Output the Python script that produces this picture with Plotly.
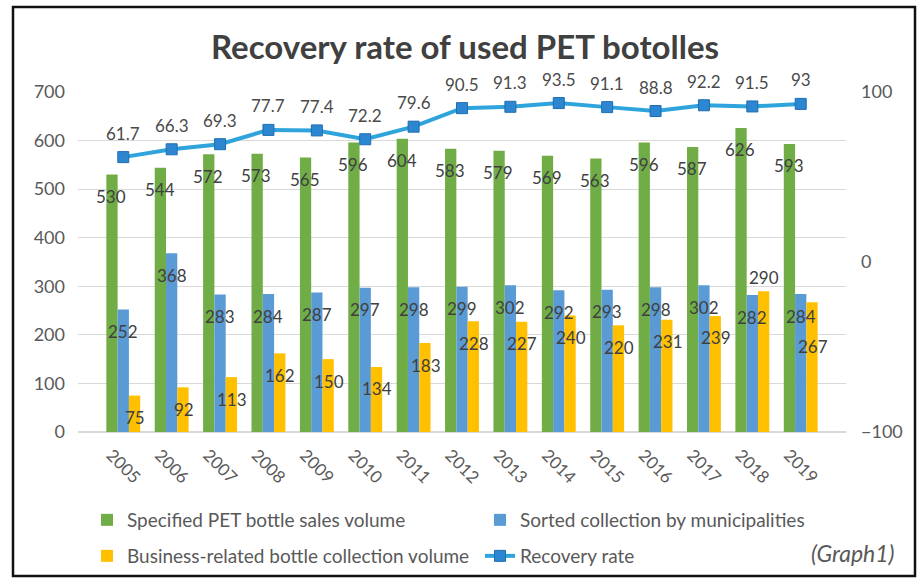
import plotly.graph_objects as go

years = [str(y) for y in range(2005, 2020)]
sales = [530, 544, 572, 573, 565, 596, 604, 583, 579, 569, 563, 596, 587, 626, 593]
municipal = [252, 368, 283, 284, 287, 297, 298, 299, 302, 292, 293, 298, 302, 282, 284]
business = [75, 92, 113, 162, 150, 134, 183, 228, 227, 240, 220, 231, 239, 290, 267]
rate = [61.7, 66.3, 69.3, 77.7, 77.4, 72.2, 79.6, 90.5, 91.3, 93.5, 91.1, 88.8, 92.2, 91.5, 93]

names = ["Specified PET bottle sales volume", "Sorted collection by municipalities",
         "Business-related bottle collection volume", "Recovery rate"]
colors = ["#70AD47", "#5B9BD5", "#FFC000"]

FONT = "Lato"
W, H = 924, 580
ML, MR, MT, MB = 78, 78, 92, 148
PW, PH = W - ML - MR, H - MT - MB


def px_x(p):
    return (p - ML) / PW


def px_y(p):
    return (MT + PH - p) / PH


fig = go.Figure()
legends = ["legend", "legend2", "legend3"]
for vals, name, col, lg in zip([sales, municipal, business], names[:3], colors, legends):
    fig.add_trace(go.Bar(x=years, y=vals, name=name, legend=lg, showlegend=True,
                         marker=dict(color=col, line=dict(width=0))))

fig.add_trace(go.Scatter(
    x=years, y=rate, name=names[3], yaxis="y2", mode="lines+markers", legend="legend4",
    showlegend=True,
    line=dict(color="#2FA4DC", width=4),
    marker=dict(symbol="square", size=11, color="#2D86D0", line=dict(color="#1F6DB3", width=1)),
))

annotations = []
label_color = "#404040"
bar_w = PW / len(years) * 0.7 / 3
for si, vals in enumerate([sales, municipal, business]):
    for i, v in enumerate(vals):
        ys = -22
        if si == 2 and years[i] == "2018":
            ys = 14
        if si == 2 and years[i] == "2019":
            ys = -44
        annotations.append(dict(x=i, y=v, xref="x", yref="y", text=str(v),
                                showarrow=False, xshift=(si - 1) * bar_w, yshift=ys,
                                font=dict(family=FONT, size=17, color=label_color)))
for i, v in enumerate(rate):
    annotations.append(dict(x=i, y=v, xref="x", yref="y2", text=str(v),
                            showarrow=False, yshift=24,
                            font=dict(family=FONT, size=17, color="#4a4a4a")))

annotations.append(dict(x=px_x(897), y=px_y(553), xref="paper", yref="paper",
                        xanchor="right", yanchor="middle", text="(Graph1)", showarrow=False,
                        font=dict(family=FONT, size=23, color="#595959", style="italic")))

shapes = [dict(type="rect", xref="paper", yref="paper",
               x0=px_x(13), x1=px_x(915), y0=px_y(576), y1=px_y(7),
               line=dict(color="#111111", width=2.5), fillcolor="rgba(0,0,0,0)", layer="above")]

legend_common = dict(orientation="h", xanchor="left", yanchor="middle", traceorder="normal",
                     visible=True,
                     font=dict(family=FONT, size=19, color="#595959"), bgcolor="rgba(0,0,0,0)")

fig.update_layout(
    width=W, height=H,
    showlegend=True,
    margin=dict(l=ML, r=MR, t=MT, b=MB, autoexpand=False),
    paper_bgcolor="white", plot_bgcolor="white",
    barmode="group", bargap=0.3, bargroupgap=0,
    title=dict(text="<b>Recovery rate of used PET botolles</b>", x=465 / W,
               xanchor="center", y=1 - 47 / H, yanchor="middle",
               font=dict(family=FONT, size=33, color="#404040")),
    xaxis=dict(type="category", tickangle=45, showgrid=False, showline=False, ticks="",
               ticklabelshift=-12, ticklabelstandoff=9,
               tickfont=dict(family=FONT, size=17, color="#595959")),
    yaxis=dict(range=[0, 700], dtick=100, showgrid=True, gridcolor="#D9D9D9", gridwidth=1,
               zeroline=True, zerolinecolor="#D9D9D9", showline=False, ticks="",
               ticklabelstandoff=12,
               tickfont=dict(family=FONT, size=18, color="#595959")),
    yaxis2=dict(range=[-100, 100], tickvals=[-100, 0, 100], overlaying="y", side="right",
                showgrid=False, zeroline=False, showline=False, ticks="", ticklabelstandoff=14,
                tickfont=dict(family=FONT, size=18, color="#595959")),
    legend=dict(x=px_x(87), y=px_y(520), **legend_common),
    legend2=dict(x=px_x(480), y=px_y(520), **legend_common),
    legend3=dict(x=px_x(87), y=px_y(556), **legend_common),
    legend4=dict(x=px_x(480), y=px_y(556), **legend_common),
    annotations=annotations,
    shapes=shapes,
)

fig.write_html("out.html")
